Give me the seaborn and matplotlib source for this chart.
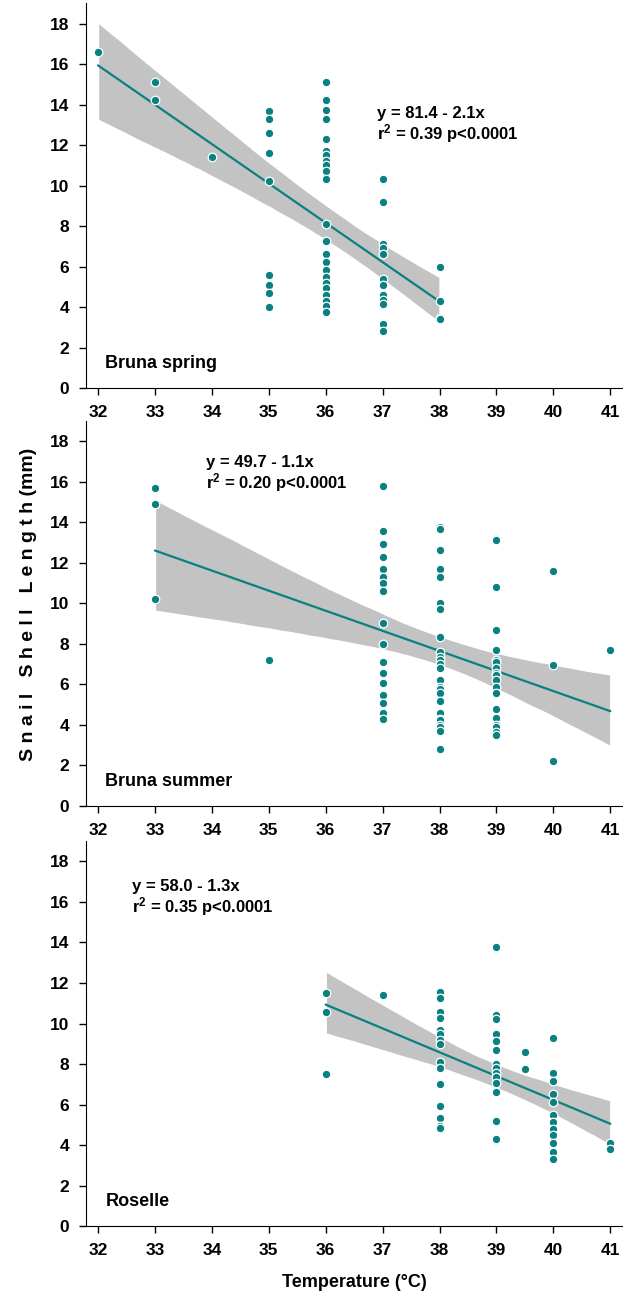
import matplotlib
matplotlib.use("Agg")
import matplotlib.pyplot as plt
import seaborn as sns
import pandas as pd

# shell lengths (mm), grouped by temperature column
# (stacked / overlapping dots are listed once per visible outline)
spring_temps = [32, 33, 34, 35, 36, 37, 38]
spring_lens = [
    [16.6],
    [15.1, 14.2],
    [11.4],
    [13.7, 13.3, 12.6, 11.6, 10.2, 5.6, 5.1, 4.7, 4.0],
    [15.1, 14.2, 13.75, 13.3, 12.3, 11.7, 11.5, 11.2, 11.0, 10.7, 10.3,
     8.1, 7.25, 6.6, 6.2, 5.85, 5.5, 5.2, 4.95, 4.6, 4.3, 4.04, 3.74],
    [10.3, 9.2, 7.1, 6.9, 6.6, 5.36, 5.1, 4.6, 4.37, 4.17, 3.14, 2.8],
    [6.0, 4.3, 3.47, 3.4],
]

summer_temps = [33, 35, 37, 38, 39, 40, 41]
summer_lens = [
    [15.7, 14.9, 10.2],
    [7.2],
    [15.8, 13.6, 12.96, 12.3, 11.7, 11.3, 11.0, 10.6, 9.06, 7.98, 7.1,
     6.55, 6.06, 5.5, 5.07, 4.58, 4.3],
    [13.8, 13.7, 12.66, 11.7, 11.3, 10.0, 9.75, 8.34, 7.6, 7.35, 7.2, 7.0,
     6.8, 6.2, 5.9, 5.8, 5.6, 5.2, 4.58, 4.58, 4.3, 4.24, 4.0, 3.9, 3.7, 2.8],
    [13.15, 10.8, 8.7, 7.7, 7.2, 7.1, 6.8, 6.55, 6.45, 6.2, 5.9, 5.6, 4.8,
     4.35, 4.0, 3.9, 3.66, 3.5],
    [11.6, 6.95, 2.2],
    [7.7],
]

roselle_temps = [36, 37, 38, 39, 39.5, 40, 41]
roselle_lens = [
    [11.5, 10.56, 7.5],
    [11.4],
    [11.56, 11.25, 10.56, 10.26, 9.67, 9.5, 9.2, 9.0, 8.1, 7.8, 7.03,
     5.94, 5.33, 4.95, 4.82],
    [13.78, 10.43, 10.2, 9.46, 9.13, 8.7, 8.0, 7.8, 7.56, 7.36, 7.06,
     6.6, 5.18, 4.3],
    [8.6, 7.76],
    [9.26, 7.56, 7.15, 6.53, 6.12, 5.46, 5.13, 4.78, 4.5, 4.09, 3.65, 3.33],
    [4.1, 3.8],
]

site_names = ["Bruna spring", "Bruna summer", "Roselle"]
eq_lines = ["y = 81.4 - 2.1x", "y = 49.7 - 1.1x", "y = 58.0 - 1.3x"]
stat_lines = ["r$^\\mathbf{2}$ = 0.39 p<0.0001", "r$^\\mathbf{2}$ = 0.20 p<0.0001",
              "r$^\\mathbf{2}$ = 0.35 p<0.0001"]
eq_pos = [(36.9, 12.0), (33.9, 15.4), (32.6, 15.2)]


def to_frame(temps, lens):
    rows = []
    for t, group in zip(temps, lens):
        for v in group:
            rows.append((t, v))
    return pd.DataFrame(rows, columns=["temp", "length"])


sns.set_style("ticks")
plt.rcParams["font.family"] = ["Liberation Sans", "DejaVu Sans"]
plt.rcParams["font.weight"] = "bold"
plt.rcParams["mathtext.fontset"] = "custom"
plt.rcParams["mathtext.bf"] = "Liberation Sans:bold"
plt.rcParams["mathtext.rm"] = "Liberation Sans:bold"
plt.rcParams["mathtext.default"] = "bf"
for key in ["text.color", "axes.labelcolor", "axes.edgecolor", "xtick.color", "ytick.color"]:
    plt.rcParams[key] = "black"

teal = "#0a8080"
fig = plt.figure(figsize=(6.28, 13.0), dpi=100)
bottoms = [0.7015, 0.380, 0.0569]
panels = [(spring_temps, spring_lens), (summer_temps, summer_lens), (roselle_temps, roselle_lens)]

for i, (temps, lens) in enumerate(panels):
    ax = fig.add_axes([0.137, bottoms[i], 0.853, 0.296])
    df = to_frame(temps, lens)
    sns.regplot(data=df, x="temp", y="length", ax=ax, scatter=False, ci=95,
                n_boot=4000, seed=1, color=teal, line_kws={"lw": 1.6, "zorder": 3})
    band = ax.collections[-1]
    band.set_facecolor("#c3c3c3")
    band.set_alpha(1)
    band.set_zorder(1)
    sns.scatterplot(data=df, x="temp", y="length", ax=ax, color=teal, s=38,
                    edgecolor="white", linewidth=0.9, zorder=4)
    ax.set_xlim(31.79, 41.2)
    ax.set_ylim(0, 19)
    ax.set_xticks(range(32, 42))
    ax.set_yticks(range(0, 19, 2))
    ax.tick_params(labelsize=12.5, length=5, width=1, direction="out", pad=7)
    for lab in ax.get_xticklabels() + ax.get_yticklabels():
        lab.set_fontweight("bold")
    ax.set_xlabel("")
    ax.set_ylabel("")
    sns.despine(ax=ax)
    ax.text(32.13, 1.0, site_names[i], fontsize=13, fontweight="bold")
    ax.text(eq_pos[i][0], eq_pos[i][1], eq_lines[i] + "\n" + stat_lines[i],
            fontsize=12, fontweight="bold", va="bottom", linespacing=1.05)
    if i == 2:
        ax.set_xlabel("Temperature (\u00b0C)", fontsize=13, fontweight="bold", labelpad=12)

fig.text(0.045, 0.535, "S n a i l   S h e l l   L e n g t h (mm)", rotation=90,
         fontsize=14, fontweight="bold", ha="center", va="center")

plt.savefig("out.png", dpi=100)
